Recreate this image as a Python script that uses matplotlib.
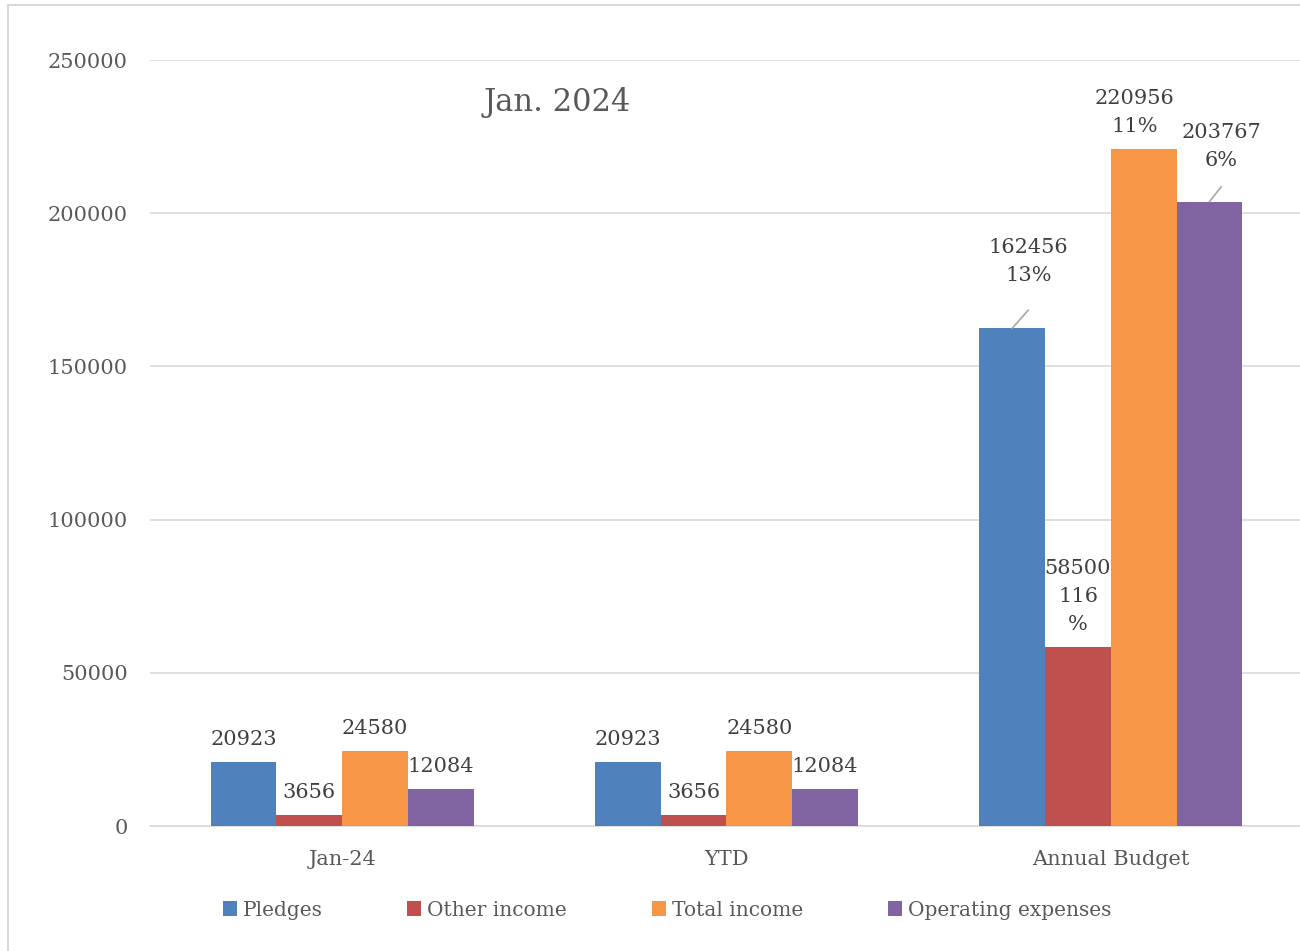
import numpy as np
import matplotlib.pyplot as plt
from matplotlib.patches import Rectangle

categories = ["Jan-24", "YTD", "Annual Budget"]
series = ["Pledges", "Other income", "Total income", "Operating expenses"]
pledges = [20923, 20923, 162456]
other_income = [3656, 3656, 58500]
total_income = [24580, 24580, 220956]
operating = [12084, 12084, 203767]
budget_pct = ["13%", "116\n%", "11%", "6%"]
yticks = [0, 50000, 100000, 150000, 200000, 250000]

colors = ["#4F81BD", "#C0504D", "#F79646", "#8064A2"]
txt = "#595959"

plt.rcParams['font.family'] = ['DejaVu Serif']

fig = plt.figure(figsize=(13, 9.51), dpi=100)
ax = fig.add_axes([150/1300, 1-826/951, (1303-150)/1300, (826-60)/951])

# outer border
fig.patches.append(Rectangle((8/1300, -0.01), 1.0, 1-5/951+0.01, transform=fig.transFigure,
                             fill=False, edgecolor="#d9d9d9", linewidth=1.5))

data = [pledges, other_income, total_income, operating]
x = np.arange(len(categories))
w = 0.171
for i, vals in enumerate(data):
    ax.bar(x + (i-1.5)*w, vals, w, color=colors[i], label=series[i], zorder=3)

# labels for first two groups
for i, vals in enumerate(data):
    for j in range(2):
        ax.annotate(str(vals[j]), (x[j] + (i-1.5)*w, vals[j]), xytext=(0, 9),
                    textcoords="offset points", ha="center", va="bottom",
                    fontsize=15, color="#404040")

# annual budget labels, moved by hand like in the original
offs = [(11.5, 31), (0, 9), (-6.5, 9), (8.6, 23)]
leader = {0: (11.5, 13), 3: (8.6, 10.8)}
for i, vals in enumerate(data):
    xx = x[2] + (i-1.5)*w
    dx, dy = offs[i]
    lab = str(vals[2]) + "\n" + budget_pct[i]
    ax.annotate(lab, (xx, vals[2]), xytext=(dx, dy), textcoords="offset points",
                ha="center", va="bottom", fontsize=15, color="#404040",
                linespacing=1.6)
    if i in leader:
        ax.annotate("", (xx, vals[2]), xytext=leader[i], textcoords="offset points",
                    arrowprops=dict(arrowstyle="-", color="#a6a6a6", lw=1.2,
                                    shrinkA=0, shrinkB=0))

ax.set_xlim(-0.5, 2.5)
ax.set_ylim(0, 250000)
ax.set_yticks(yticks)
ax.set_xticks(x)
ax.set_xticklabels(categories)
ax.grid(axis="y", color="#d9d9d9", linewidth=1.2, zorder=0)
for s in ["top", "right", "left"]:
    ax.spines[s].set_visible(False)
ax.spines["bottom"].set_color("#d9d9d9")
ax.spines["bottom"].set_linewidth(1.2)
ax.tick_params(axis="y", length=0, pad=16, labelsize=15, labelcolor=txt)
ax.tick_params(axis="x", length=0, pad=17, labelsize=15, labelcolor=txt)

fig.text(557/1300, 1-102/951, "Jan. 2024", fontsize=22, color=txt, ha="center", va="center")

fig.legend(loc="center", bbox_to_anchor=(0.513, 1-910/951), ncol=4, frameon=False,
           fontsize=14.5, handlelength=0.7, handleheight=0.7, handletextpad=0.3,
           columnspacing=4.2, labelcolor=txt)

fig.savefig("out.png", dpi=100)
